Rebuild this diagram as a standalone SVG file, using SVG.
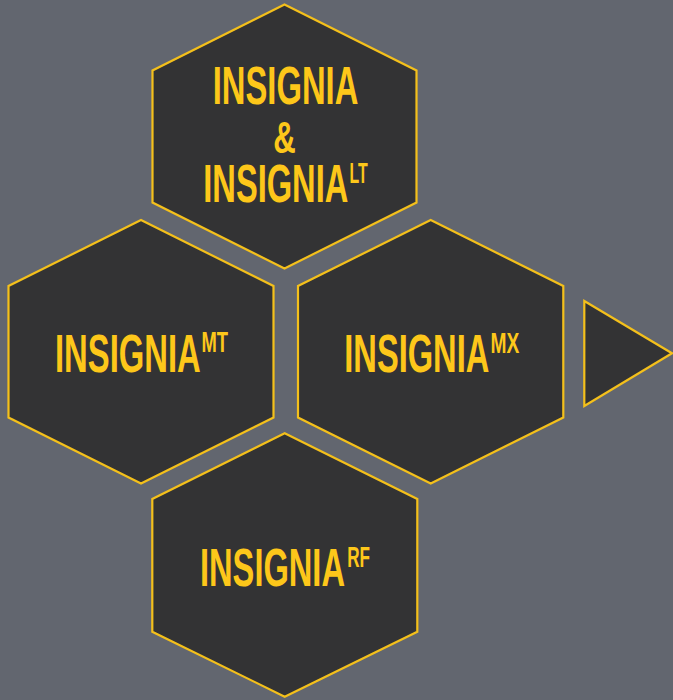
<svg xmlns="http://www.w3.org/2000/svg" width="673" height="700" viewBox="0 0 673 700">
<style>
.hex{fill:#333334;stroke:#f4c01b;stroke-width:2.2;stroke-linejoin:miter}
.t{font-family:"Liberation Sans","Arial",sans-serif;font-weight:bold;fill:#fdc71a;font-size:54px}
.sup{font-size:29px}
</style>
<rect width="673" height="700" fill="#62666f"/>
<g id="node-lt">
<polygon class="hex" points="284.5,4.5 416.5,70.5 416.5,202.5 284.5,268.5 152.5,202.5 152.5,70.5"/>
<text class="t" x="212.7" y="104.3" textLength="145.6" lengthAdjust="spacingAndGlyphs">INSIGNIA</text>
<text class="t" style="font-size:44px" x="273.3" y="153" textLength="22.5" lengthAdjust="spacingAndGlyphs">&amp;</text>
<text class="t"><tspan x="203.3" y="202.3" textLength="145" lengthAdjust="spacingAndGlyphs">INSIGNIA</tspan><tspan class="sup" x="349.6" y="183.3" textLength="18.2" lengthAdjust="spacingAndGlyphs">LT</tspan></text>
</g>
<g id="node-mt">
<polygon class="hex" points="141,220 273.5,286 273.5,417.5 141,483.5 8.5,417.5 8.5,286"/>
<text class="t"><tspan x="55" y="371.7" textLength="145.7" lengthAdjust="spacingAndGlyphs">INSIGNIA</tspan><tspan class="sup" x="201.5" y="352.3" textLength="26.5" lengthAdjust="spacingAndGlyphs">MT</tspan></text>
</g>
<g id="node-mx">
<polygon class="hex" points="430.7,220 563.3,286 563.3,417.5 430.7,483.5 298,417.5 298,286"/>
<text class="t"><tspan x="344.3" y="371.7" textLength="145" lengthAdjust="spacingAndGlyphs">INSIGNIA</tspan><tspan class="sup" x="490.5" y="352.5" textLength="28.8" lengthAdjust="spacingAndGlyphs">MX</tspan></text>
</g>
<g id="node-rf">
<polygon class="hex" points="284.7,433.3 417.3,499 417.3,631.7 284.7,696.7 152.3,631.7 152.3,499"/>
<text class="t"><tspan x="200" y="586" textLength="145" lengthAdjust="spacingAndGlyphs">INSIGNIA</tspan><tspan class="sup" x="347.2" y="567" textLength="22.8" lengthAdjust="spacingAndGlyphs">RF</tspan></text>
</g>
<g id="connectors">
<polygon class="hex" points="584.3,301 672,353.3 584.3,406"/>
</g>
</svg>
